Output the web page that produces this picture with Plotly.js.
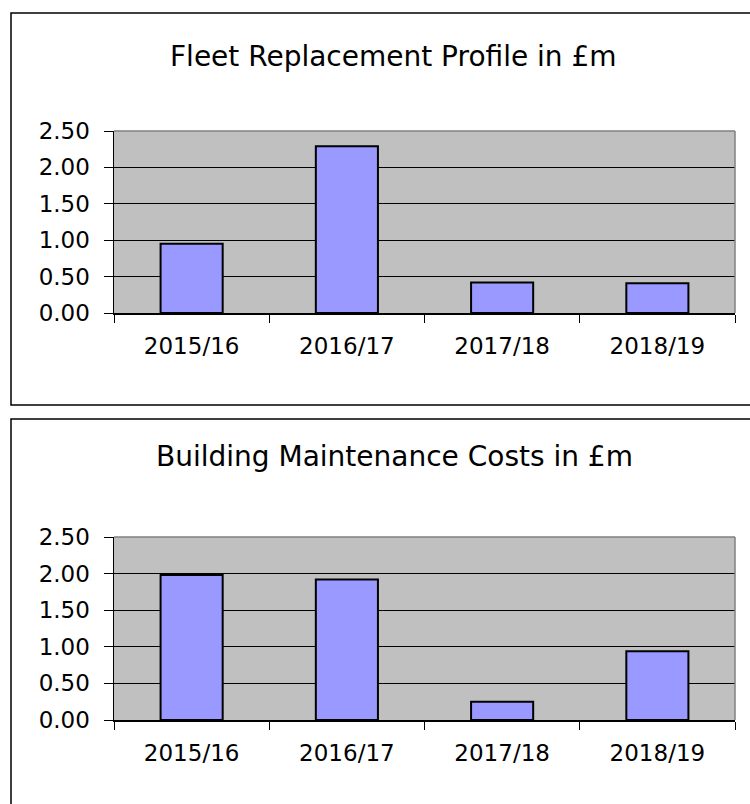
<!DOCTYPE html>
<html>
<head>
<meta charset="utf-8">
<script src="https://cdn.plot.ly/plotly-3.0.1.min.js"></script>
<style>html,body{margin:0;padding:0;background:#fff;}#chart{width:750px;height:804px;}</style>
</head>
<body>
<div id="chart"></div>
<script>
// ---- data ----
const categories = ["2015/16", "2016/17", "2017/18", "2018/19"];
const fleetValues = [0.95, 2.29, 0.42, 0.41];
const buildingValues = [1.98, 1.92, 0.25, 0.94];
const fleetTitle = "Fleet Replacement Profile in £m";
const buildingTitle = "Building Maintenance Costs in £m";
const yTickVals = [0, 0.5, 1.0, 1.5, 2.0, 2.5];

// ---- layout helpers ----
const W = 750, H = 804;
const px = x => x / W;
const py = y => 1 - y / H;
const FONT = "DejaVu Sans";
const barColor = "#9999FF";

const traces = [
  {type: "bar", x: categories, y: fleetValues, xaxis: "x", yaxis: "y",
   width: 0.4, marker: {color: barColor, line: {color: "#000", width: 2}}, hoverinfo: "x+y"},
  {type: "bar", x: categories, y: buildingValues, xaxis: "x2", yaxis: "y2",
   width: 0.4, marker: {color: barColor, line: {color: "#000", width: 2}}, hoverinfo: "x+y"}
];

function xAx(anchor) {
  return {
    anchor: anchor, domain: [px(114), px(735)], type: "category",
    tickson: "boundaries", ticks: "outside", ticklen: 8, tickwidth: 1, tickcolor: "#000",
    showline: true, linecolor: "#000", linewidth: 1.5, showgrid: false, zeroline: false,
    tickfont: {family: FONT, size: 23, color: "#000"}, ticklabelstandoff: 12,
    fixedrange: true
  };
}
function yAx(anchor, top, bottom) {
  return {
    anchor: anchor, domain: [py(bottom), py(top)], range: [0, 2.5],
    tickvals: yTickVals, tickformat: ".2f", ticks: "outside", ticklen: 9, tickwidth: 1, tickcolor: "#000",
    showline: true, linecolor: "#000", linewidth: 1.5, showgrid: true, gridcolor: "#000", gridwidth: 1,
    zeroline: false, tickfont: {family: FONT, size: 23, color: "#000"}, ticklabelstandoff: 9,
    fixedrange: true
  };
}

const layout = {
  width: W, height: H,
  margin: {l: 0, r: 0, t: 0, b: 0},
  paper_bgcolor: "#fff", plot_bgcolor: "#C0C0C0",
  showlegend: false, bargap: 0.6,
  xaxis: xAx("y"), yaxis: yAx("x", 131, 313),
  xaxis2: xAx("y2"), yaxis2: yAx("x2", 537, 720),
  annotations: [
    {text: fleetTitle, xref: "paper", yref: "paper", x: px(393), y: py(56), xanchor: "center", yanchor: "middle",
     showarrow: false, font: {family: FONT, size: 28, color: "#000"}},
    {text: buildingTitle, xref: "paper", yref: "paper", x: px(395), y: py(456), xanchor: "center", yanchor: "middle",
     showarrow: false, font: {family: FONT, size: 28, color: "#000"}}
  ],
  shapes: [
    // outer chart frames
    {type: "rect", xref: "paper", yref: "paper", x0: px(11), x1: px(760), y0: py(405), y1: py(13),
     line: {color: "#000", width: 1.5}, fillcolor: "rgba(0,0,0,0)", layer: "above"},
    {type: "rect", xref: "paper", yref: "paper", x0: px(11), x1: px(760), y0: py(820), y1: py(419),
     line: {color: "#000", width: 1.5}, fillcolor: "rgba(0,0,0,0)", layer: "above"},
    // gray plot-area borders (top & right)
    {type: "line", xref: "x domain", yref: "y domain", x0: 0, x1: 1, y0: 1, y1: 1, line: {color: "#808080", width: 1.5}, layer: "above"},
    {type: "line", xref: "x domain", yref: "y domain", x0: 1, x1: 1, y0: 0, y1: 1, line: {color: "#808080", width: 1.5}, layer: "above"},
    {type: "line", xref: "x2 domain", yref: "y2 domain", x0: 0, x1: 1, y0: 1, y1: 1, line: {color: "#808080", width: 1.5}, layer: "above"},
    {type: "line", xref: "x2 domain", yref: "y2 domain", x0: 1, x1: 1, y0: 0, y1: 1, line: {color: "#808080", width: 1.5}, layer: "above"}
  ]
};

Plotly.newPlot("chart", traces, layout, {displayModeBar: false, staticPlot: true});
</script>
</body>
</html>
